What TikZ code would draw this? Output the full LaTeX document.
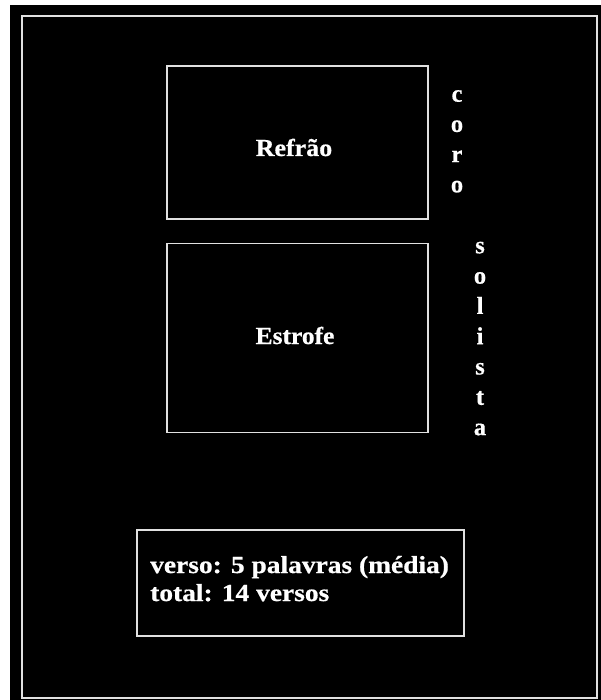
\documentclass[tikz,border=0pt]{standalone}
\usepackage{fontspec}
\setmainfont{Liberation Serif}[BoldFeatures={FakeBold=0.6}]
\usepackage{graphicx}
\newcommand{\widetxt}[2]{\scalebox{#1}[1]{#2}}
\definecolor{edgecol}{RGB}{225,225,225}
\begin{document}
\begin{tikzpicture}[x=1pt,y=-1pt,
  boxnode/.style={draw=edgecol, line width=1.8pt, rectangle, inner sep=0pt},
  lbl/.style={text=white, font=\fontsize{24.5}{28}\selectfont\bfseries, inner sep=0pt},
  vlet/.style={text=white, font=\fontsize{24.5}{28}\selectfont\bfseries, inner sep=0pt, anchor=base}]
\fill[white] (0,0) rectangle (601,700);
\fill[black] (10,5) rectangle (601,700);
\useasboundingbox (0,0) rectangle (601,700);
\draw[draw=edgecol, line width=1.8pt] (22,16) rectangle (597,698);
% boxes
\node[boxnode, minimum width=261pt, minimum height=153pt] (refraobox) at (297.5,142.5) {};
\node[boxnode, minimum width=261pt, minimum height=189pt] (estrofebox) at (297.5,338) {};
\node[boxnode, minimum width=327pt, minimum height=106pt] (versobox) at (300.5,583) {};
% labels
\node[lbl, anchor=base] (refrao) at (294,156) {\widetxt{1.06}{Refrão}};
\node[lbl, anchor=base] (estrofe) at (295,344) {\widetxt{1.04}{Estrofe}};
\node[lbl, anchor=base west] (verso) at (150,573) {\widetxt{1.12}{verso: 5 palavras (média)}};
\node[lbl, anchor=base west] (total) at (150,601) {\widetxt{1.12}{total: 14 versos}};
% vertical words
\foreach \ch [count=\i from 0] in {c,o,r,o}
  \node[vlet] (coro\i) at (457,101.7+30.2*\i) {\ch};
\foreach \ch [count=\i from 0] in {s,o,l,i,s,t,a}
  \node[vlet] (sol\i) at (480,253.3+30.3*\i) {\ch};
\end{tikzpicture}
\end{document}
